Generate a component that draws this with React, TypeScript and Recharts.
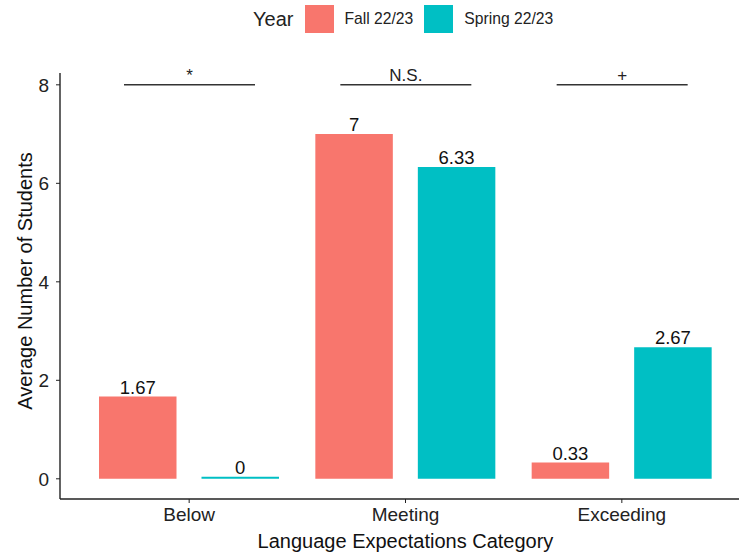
import React, { useEffect } from 'react';
import { BarChart, Bar, XAxis, YAxis, LabelList, Label } from 'recharts';

const categories = ['Below', 'Meeting', 'Exceeding'];
const fall = [1.67, 7, 0.33];
const spring = [0, 6.33, 2.67];
const sigLevel = [8, 8, 8];
const sigLabels = ['*', 'N.S.', '+'];
const yTicks = [0, 2, 4, 6, 8];

const FALL = '#F8766D';
const SPRING = '#00BFC4';
const FONT = '"Liberation Sans", Arial, sans-serif';

const data = categories.map((c, i) => ({
  category: c,
  fall: fall[i],
  spring: spring[i],
  sig: sigLevel[i],
  sigLabel: sigLabels[i],
}));

const SigShape = (props: any) => {
  const { x, y, width } = props;
  return <line x1={x} x2={x + width} y1={y} y2={y} stroke="#333" strokeWidth={1.6} />;
};

// rotated y title, nudged a little above the plot centre like ggplot
const YTitle = (props: any) => {
  const { viewBox } = props;
  const cx = 25;
  const cy = viewBox.y + viewBox.height / 2 - 5;
  return (
    <text
      x={cx}
      y={cy}
      transform={`rotate(-90, ${cx}, ${cy})`}
      textAnchor="middle"
      dominantBaseline="central"
      fill="#111"
      fontSize={20}
    >
      Average Number of Students
    </text>
  );
};

const Legend = () => (
  <div
    style={{
      position: 'absolute',
      top: 5,
      left: 253,
      display: 'flex',
      alignItems: 'center',
      fontFamily: FONT,
      color: '#222',
    }}
  >
    <span style={{ fontSize: 20, marginRight: 12 }}>Year</span>
    <span style={{ width: 29, height: 28, background: FALL, display: 'inline-block' }} />
    <span style={{ fontSize: 15.7, marginLeft: 10, marginRight: 11 }}>Fall 22/23</span>
    <span style={{ width: 29, height: 28, background: SPRING, display: 'inline-block' }} />
    <span style={{ fontSize: 15.7, marginLeft: 11 }}>Spring 22/23</span>
  </div>
);

export default function App() {
  useEffect(() => {
    document.body.style.margin = '0';
  }, []);

  const tick = { fill: '#222', fontSize: 19, fontFamily: FONT };

  return (
    <div style={{ position: 'relative', width: 739, height: 554, overflow: 'hidden', background: '#fff' }}>
      <Legend />
      <BarChart
        width={752}
        height={554}
        data={data}
        margin={{ top: 73, right: 1, left: 0, bottom: 0 }}
        barSize={77.5}
        barGap={25}
        style={{ fontFamily: FONT }}
      >
        <XAxis
          dataKey="category"
          padding={{ left: 21, right: 21 }}
          height={55}
          tick={tick}
          tickSize={4}
          tickMargin={5}
          axisLine={{ stroke: '#222', strokeWidth: 1.4 }}
          tickLine={{ stroke: '#222' }}
          label={{ value: 'Language Expectations Category', position: 'insideBottom', offset: 6, fill: '#111', fontSize: 20 }}
        />
        <XAxis xAxisId="sig" dataKey="category" padding={{ left: 21, right: 21 }} hide />
        <YAxis
          width={60}
          domain={[-0.41, 8.24]}
          ticks={yTicks}
          allowDataOverflow
          tick={tick}
          tickSize={4}
          tickMargin={7}
          axisLine={{ stroke: '#222', strokeWidth: 1.4 }}
          tickLine={{ stroke: '#222' }}
        >
          <Label content={<YTitle />} />
        </YAxis>
        <Bar dataKey="fall" fill={FALL} isAnimationActive={false}>
          <LabelList dataKey="fall" position="top" offset={3} fill="#111" fontSize={18.5} />
        </Bar>
        <Bar dataKey="spring" fill={SPRING} minPointSize={2} isAnimationActive={false}>
          <LabelList dataKey="spring" position="top" offset={3} fill="#111" fontSize={18.5} />
        </Bar>
        <Bar dataKey="sig" xAxisId="sig" barSize={131} shape={<SigShape />} isAnimationActive={false}>
          <LabelList dataKey="sigLabel" position="top" offset={4} fill="#222" fontSize={17} />
        </Bar>
      </BarChart>
    </div>
  );
}
